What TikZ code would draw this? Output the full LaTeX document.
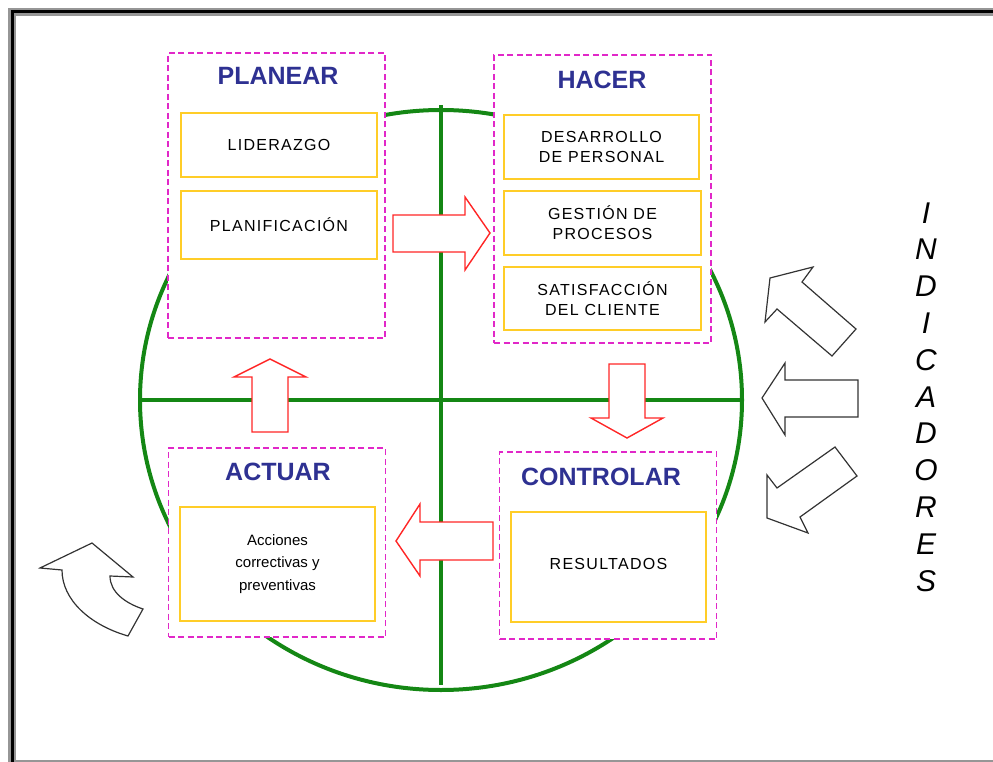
\documentclass[tikz,border=0pt]{standalone}
\usepackage{fontspec}
\setmainfont{Liberation Sans}
\newfontfamily\boxfont[LetterSpace=8]{Liberation Sans}
\definecolor{cyclegreen}{RGB}{20,135,20}
\definecolor{stagepink}{RGB}{225,40,200}
\definecolor{itemgold}{RGB}{255,205,40}
\definecolor{titleblue}{RGB}{46,49,146}
\definecolor{framegray}{RGB}{150,150,150}

\begin{document}
\begin{tikzpicture}[x=1pt,y=-1pt,line width=.5pt,
  stage/.style={draw=stagepink,line width=1.7pt,dash pattern=on 6pt off 3.5pt,fill=white,inner sep=0pt,minimum width=217},
  item/.style={draw=itemgold,line width=1.6pt,fill=white,inner sep=0pt,minimum width=196,minimum height=64,align=center,font=\boxfont\fontsize{16}{20}\selectfont},
  title/.style={inner sep=0pt,font=\bfseries\fontsize{25}{30}\selectfont,text=titleblue},
  flow/.style={draw=red!85,fill=white,line width=1.4pt,line join=miter},
  hint/.style={draw=black!80,fill=white,line width=1.2pt}]
\path[use as bounding box] (0,0) rectangle (993,762);
\draw[framegray,line width=8pt] (1000,12) -- (12,12) -- (12,764) -- (1000,764);
\draw[black,line width=3pt] (1000,12) -- (12,12) -- (12,764) -- (1000,764);
% cycle
\coordinate (hub) at (441,400);
\draw[cyclegreen,line width=4pt] (hub) ellipse [x radius=301,y radius=290];
\draw[cyclegreen,line width=4pt] (441,105) -- (441,685);
\draw[cyclegreen,line width=4pt] (140,400) -- (742,400);
% stages
\node[stage,minimum height=285] (planear) at (276.5,195.5) {};
\node[stage,minimum height=288] (hacer) at (602.5,199) {};
\node[stage,minimum height=189] (actuar) at (277,542.5) {};
\node[stage,minimum height=187] (controlar) at (608,545.5) {};
\node[title] (planeart) at (278,76) {PLANEAR};
\node[title] (hacert) at (602,80) {HACER};
\node[title] (actuart) at (278,472) {ACTUAR};
\node[title] (controlart) at (601,477) {CONTROLAR};
\node[item] (liderazgo) at (279,145) {LIDERAZGO};
\node[item,minimum height=68] (planif) at (279,225) {PLANIFICACIÓN};
\node[item,minimum width=195] (desarrollo) at (601.5,147) {DESARROLLO\\DE PERSONAL};
\node[item,minimum width=197] (gestion) at (602.5,223) {GESTIÓN DE\\PROCESOS};
\node[item,minimum width=197,minimum height=63] (satisf) at (602.5,298.5) {SATISFACCIÓN\\DEL CLIENTE};
\node[item,minimum width=195,minimum height=114,font=\fontsize{15}{22.5}\selectfont] (acciones) at (277.5,564) {Acciones\\correctivas y\\preventivas};
\node[item,minimum width=195,minimum height=110] (resultados) at (608.5,567) {\raisebox{6pt}{RESULTADOS}};
% flow arrows
\draw[flow] (393,215) -- (465,215) -- (465,197) -- (490,233) -- (465,270) -- (465,252) -- (393,252) -- cycle;
\draw[flow] (609,364) -- (645,364) -- (645,418) -- (663,418) -- (627,438) -- (591,418) -- (609,418) -- cycle;
\draw[flow] (493,522) -- (420,522) -- (420,504) -- (396,541) -- (420,576) -- (420,560) -- (493,560) -- cycle;
\draw[flow] (252,432) -- (252,377) -- (234,377) -- (270,359) -- (306,377) -- (288,377) -- (288,432) -- cycle;
% indicators
\draw[hint] (832,356) -- (777,309) -- (765,322) -- (770,278) -- (813,267) -- (802,282) -- (856,329) -- cycle;
\draw[hint] (858,380) -- (785,380) -- (785,363) -- (762,398) -- (785,435) -- (785,417) -- (858,417) -- cycle;
\draw[hint] (835,447) -- (777,488) -- (767,475) -- (767,518) -- (808,533) -- (800,517) -- (857,476) -- cycle;
\draw[hint] (92,543) -- (40,568) -- (62,570) .. controls (62,600) and (90,625) .. (128,636) -- (143,609) .. controls (125,603) and (110,592) .. (110,576) -- (133,577) -- cycle;
\node[align=center,inner sep=0pt,font=\itshape\fontsize{30}{36.8}\selectfont] (indicadores) at (926,397) {I\\N\\D\\I\\C\\A\\D\\O\\R\\E\\S};
\end{tikzpicture}
\end{document}
